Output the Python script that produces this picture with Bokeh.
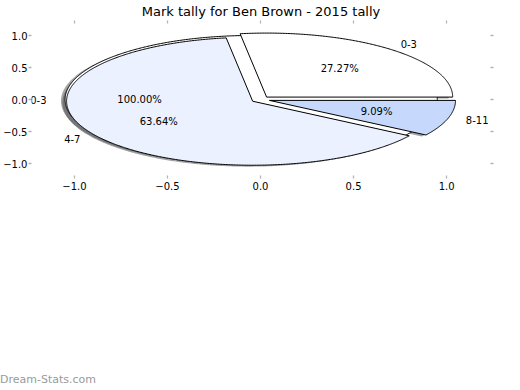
import numpy as np
from bokeh.plotting import figure
from bokeh.layouts import column
from bokeh.models import ColumnDataSource, Range1d, LinearAxis, Label, FixedTicker, Div
from bokeh.embed import file_html
from bokeh.resources import INLINE

# ---------------- data ----------------
title_text = "Mark tally for Ben Brown - 2015 tally"
categories = ["0-3", "4-7", "8-11"]
tally = [3, 7, 1]
overall_categories = ["0-3"]
overall_tally = [11]
colors = ["#ffffff", "#ebf1fe", "#c6d9fd"]
x_ticks = [-1.0, -0.5, 0.0, 0.5, 1.0]
x_tick_labels = ["\u22121.0", "\u22120.5", "0.0", "0.5", "1.0"]
y_ticks = [-1.0, -0.5, 0.0, 0.5, 1.0]
y_tick_labels = ["\u22121.0", "\u22120.5", "0.0", "0.5", "1.0"]
watermark = "Dream-Stats.com"

# ---------------- pie styling (matplotlib-like) ----------------
EXPLODE = 0.05
LABEL_DIST = 1.1
PCT_DIST = 0.6
SHADOW = 0.0222
FONT = "DejaVu Sans"

# ---------------- layout ----------------
W, H = 520, 370
WM_H = 20
B_LEFT, B_RIGHT, B_TOP, B_BOTTOM = 30, 30, 23, 195
PX_X, PX_Y = 186.5, 64.0          # pixels per data unit
CX, CY = 259.5, 99.0              # canvas-pixel position of data origin
fl, fr = B_LEFT, W - B_RIGHT
ft, fb = B_TOP, H - B_BOTTOM
x_range = Range1d((fl - CX) / PX_X, (fr - CX) / PX_X)
y_range = Range1d((CY - fb) / PX_Y, (CY - ft) / PX_Y)

p = figure(width=W, height=H, x_range=x_range, y_range=y_range,
           output_backend="svg", toolbar_location=None,
           min_border_left=B_LEFT, min_border_right=B_RIGHT,
           min_border_top=B_TOP, min_border_bottom=B_BOTTOM,
           x_axis_location="below", y_axis_location="left")
p.title.text = title_text
p.title.text_font = FONT
p.title.text_font_size = "13px"
p.title.text_font_style = "normal"
p.title.text_color = "#000000"
p.title.align = "center"
p.title.standoff = 3
p.grid.visible = False
p.outline_line_color = None
p.background_fill_color = "white"
p.border_fill_color = "white"


def style_axis(ax, ticks, labels, show_labels):
    ax.ticker = FixedTicker(ticks=ticks)
    ax.axis_line_color = None
    ax.major_tick_line_color = "#b4b4b4"
    ax.major_tick_line_width = 1.3
    ax.major_tick_out = 3
    ax.major_tick_in = 0
    ax.minor_tick_line_color = None
    if show_labels:
        ax.major_label_overrides = {t: l for t, l in zip(ticks, labels)}
        ax.major_label_text_font = FONT
        ax.major_label_text_font_size = "10px"
        ax.major_label_text_color = "#000000"
        ax.major_label_standoff = 1
    else:
        ax.major_label_text_font_size = "0px"
        ax.major_label_text_color = None
        ax.major_label_standoff = 0


style_axis(p.xaxis[0], x_ticks, x_tick_labels, True)
p.xaxis[0].major_label_standoff = 3
style_axis(p.yaxis[0], y_ticks, y_tick_labels, True)
top_ax = LinearAxis()
right_ax = LinearAxis()
style_axis(top_ax, x_ticks, x_tick_labels, False)
style_axis(right_ax, y_ticks, y_tick_labels, False)
p.add_layout(top_ax, "above")
p.add_layout(right_ax, "right")


def wedges(values, explode):
    vals = np.asarray(values, dtype=float)
    fr_ = vals / vals.sum()
    out = []
    t1 = 0.0
    for f in fr_:
        t2 = t1 + 360.0 * f
        mid = np.deg2rad((t1 + t2) / 2)
        cx, cy = explode * np.cos(mid), explode * np.sin(mid)
        th = np.deg2rad(np.linspace(t1, t2, max(int(abs(t2 - t1)) * 2, 8)))
        if f >= 0.9999:
            xs = list(cx + np.cos(th))
            ys = list(cy + np.sin(th))
        else:
            xs = [cx] + list(cx + np.cos(th)) + [cx]
            ys = [cy] + list(cy + np.sin(th)) + [cy]
        out.append(dict(xs=xs, ys=ys, cx=cx, cy=cy, mid=mid, frac=f))
        t1 = t2
    return out


overall = wedges(overall_tally, EXPLODE)
main = wedges(tally, EXPLODE)


def darken(hexc):
    h = hexc.lstrip("#")
    r, g, b = (int(h[i:i + 2], 16) for i in (0, 2, 4))
    return "#%02x%02x%02x" % (int(r * 0.3), int(g * 0.3), int(b * 0.3))


# shadows (all below the wedges)
sh = [overall[0]] + main
sh_colors = [colors[0]] + colors[:len(main)]
shadow_src = ColumnDataSource(dict(
    xs=[[x - SHADOW for x in w["xs"]] for w in sh],
    ys=[[y - SHADOW for y in w["ys"]] for w in sh],
    c=[darken(c) for c in sh_colors]))
p.patches("xs", "ys", source=shadow_src, fill_color="c", fill_alpha=0.5,
          line_color=None)

# overall (100%) pie
ov_src = ColumnDataSource(dict(xs=[w["xs"] for w in overall],
                               ys=[w["ys"] for w in overall],
                               c=colors[:len(overall)]))
p.patches("xs", "ys", source=ov_src, fill_color="c", line_color="black",
          line_width=1)

# main pie
mn_src = ColumnDataSource(dict(xs=[w["xs"] for w in main],
                               ys=[w["ys"] for w in main],
                               c=colors[:len(main)]))
p.patches("xs", "ys", source=mn_src, fill_color="c", line_color="black",
          line_width=1)


def add_labels(ws, names):
    for w, name in zip(ws, names):
        lx = w["cx"] + LABEL_DIST * np.cos(w["mid"])
        ly = w["cy"] + LABEL_DIST * np.sin(w["mid"])
        p.add_layout(Label(x=lx, y=ly, text=name,
                           text_align="left" if lx > 0 else "right",
                           text_baseline="middle", text_font=FONT,
                           text_font_size="10px", text_color="black"))
        px = w["cx"] + PCT_DIST * np.cos(w["mid"])
        py = w["cy"] + PCT_DIST * np.sin(w["mid"])
        p.add_layout(Label(x=px, y=py, text="%.2f%%" % (w["frac"] * 100),
                           text_align="center", text_baseline="middle",
                           text_font=FONT, text_font_size="10px",
                           text_color="black"))


add_labels(overall, overall_categories)
add_labels(main, categories)

# watermark strip under the chart
wm = Div(text=watermark, width=200, height=WM_H, margin=(0, 0, 0, 0),
         styles={"font-family": FONT, "font-size": "11px", "color": "#9a9a9a",
                 "line-height": "%dpx" % WM_H, "white-space": "nowrap"})

layout = column(p, wm, spacing=0)
open("out.html", "w").write(file_html(layout, INLINE))
